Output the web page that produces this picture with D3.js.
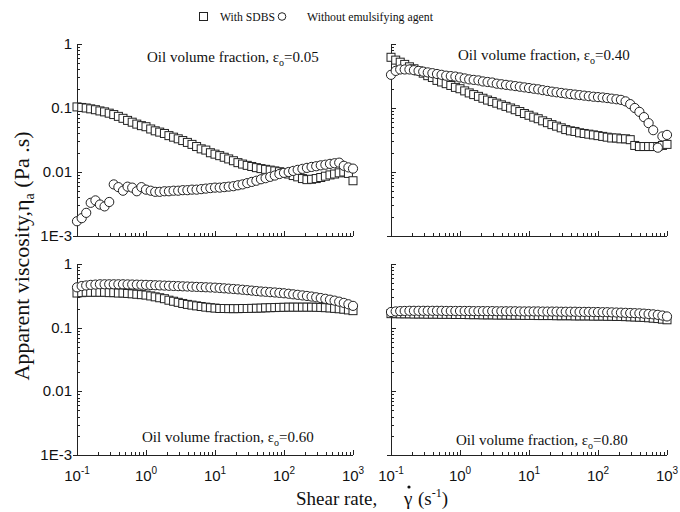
<!DOCTYPE html>
<html>
<head>
<meta charset="utf-8">
<script src="https://cdn.jsdelivr.net/npm/d3@7"></script>
<style>
  body { margin: 0; background: #fff; }
  svg { display: block; }
  .serif { font-family: "Liberation Serif", "Times New Roman", serif; fill: #111; }
  .sans { font-family: "Liberation Sans", Arial, sans-serif; fill: #111; }
  .axis path, .axis line { stroke: #222; stroke-width: 1; shape-rendering: crispEdges; }
</style>
</head>
<body>
<svg id="chart" width="680" height="512"></svg>
<script>
// shear rate, 1/s
var shearRate = [
  0.1, 0.117, 0.136, 0.158, 0.185, 0.215, 0.251, 0.293, 0.341, 0.398,
  0.464, 0.541, 0.631, 0.736, 0.858, 1, 1.17, 1.36, 1.58, 1.85,
  2.15, 2.51, 2.93, 3.41, 3.98, 4.64, 5.41, 6.31, 7.36, 8.58,
  10, 11.7, 13.6, 15.8, 18.5, 21.5, 25.1, 29.3, 34.1, 39.8,
  46.4, 54.1, 63.1, 73.6, 85.8, 100, 117, 136, 158, 185,
  215, 251, 293, 341, 398, 464, 541, 631, 736, 858,
  1000
];

// apparent viscosity, Pa.s  (sdbs = with SDBS, none = without emulsifying agent)
var sdbs005 = [
  0.104, 0.102, 0.100, 0.097, 0.094, 0.090, 0.087, 0.083, 0.079, 0.074,
  0.069, 0.064, 0.060, 0.056, 0.053, 0.051, 0.047, 0.044, 0.042, 0.040,
  0.037, 0.035, 0.033, 0.031, 0.029, 0.027, 0.025, 0.023, 0.022, 0.020,
  0.019, 0.018, 0.017, 0.016, 0.015, 0.014, 0.0133, 0.0127, 0.0122, 0.0117,
  0.0113, 0.011, 0.0107, 0.0104, 0.0101, 0.0098, 0.0093, 0.0088, 0.0084, 0.0079,
  0.0076, 0.0077, 0.0079, 0.0082, 0.0086, 0.009, 0.0093, 0.0097, 0.010, 0.0095,
  0.0073
];
var none005 = [
  0.0017, 0.0019, 0.0023, 0.0033, 0.0036, 0.0031, 0.0029, 0.0034, 0.0064, 0.0058,
  0.0051, 0.0059, 0.0057, 0.0050, 0.0058, 0.0053, 0.0051, 0.0049, 0.0049, 0.0050,
  0.0050, 0.0051, 0.0051, 0.0052, 0.0052, 0.0053, 0.0053, 0.0054, 0.0055, 0.0056,
  0.0057, 0.0057, 0.0058, 0.0059, 0.0060, 0.0062, 0.0064, 0.0067, 0.0070, 0.0073,
  0.0077, 0.0080, 0.0084, 0.0088, 0.0093, 0.0097, 0.0100, 0.0104, 0.0108, 0.0112,
  0.0116, 0.0120, 0.0123, 0.0127, 0.0130, 0.0134, 0.0137, 0.0140, 0.0125, 0.0118,
  0.0113
];
var sdbs040 = [
  0.62, 0.56, 0.52, 0.48, 0.44, 0.41, 0.38, 0.35, 0.32, 0.30,
  0.27, 0.255, 0.24, 0.225, 0.21, 0.20, 0.185, 0.172, 0.162, 0.152,
  0.142, 0.133, 0.126, 0.119, 0.112, 0.106, 0.100, 0.094, 0.088, 0.082,
  0.077, 0.072, 0.068, 0.063, 0.059, 0.055, 0.052, 0.049, 0.046, 0.044,
  0.043, 0.041, 0.040, 0.039, 0.038, 0.037, 0.036, 0.035, 0.034, 0.034,
  0.033, 0.033, 0.032, 0.026, 0.025, 0.025, 0.025, 0.025, 0.025, 0.026,
  0.027
];
var none040 = [
  0.33, 0.38, 0.40, 0.40, 0.40, 0.39, 0.38, 0.37, 0.36, 0.35,
  0.34, 0.33, 0.32, 0.315, 0.31, 0.30, 0.29, 0.28, 0.275, 0.27,
  0.26, 0.255, 0.25, 0.24, 0.235, 0.23, 0.225, 0.22, 0.215, 0.21,
  0.205, 0.20, 0.196, 0.19, 0.185, 0.18, 0.176, 0.172, 0.168, 0.165,
  0.162, 0.159, 0.156, 0.153, 0.15, 0.148, 0.146, 0.143, 0.14, 0.137,
  0.134, 0.127, 0.115, 0.10, 0.087, 0.072, 0.058, 0.045, 0.024, 0.036,
  0.038
];
var sdbs060 = [
  0.35, 0.355, 0.36, 0.36, 0.36, 0.36, 0.36, 0.355, 0.355, 0.35,
  0.35, 0.345, 0.34, 0.335, 0.33, 0.325, 0.315, 0.305, 0.295, 0.285,
  0.27, 0.26, 0.25, 0.24, 0.232, 0.226, 0.22, 0.215, 0.21, 0.206,
  0.203, 0.20, 0.20, 0.199, 0.199, 0.199, 0.20, 0.20, 0.201, 0.202,
  0.203, 0.205, 0.206, 0.207, 0.208, 0.209, 0.21, 0.21, 0.21, 0.21,
  0.21, 0.21, 0.209, 0.208, 0.206, 0.204, 0.201, 0.198, 0.195, 0.19,
  0.185
];
var none060 = [
  0.43, 0.45, 0.46, 0.47, 0.475, 0.48, 0.48, 0.48, 0.48, 0.48,
  0.48, 0.478, 0.476, 0.474, 0.472, 0.47, 0.467, 0.464, 0.461, 0.458,
  0.455, 0.452, 0.449, 0.446, 0.443, 0.44, 0.437, 0.434, 0.431, 0.428,
  0.425, 0.42, 0.415, 0.41, 0.405, 0.40, 0.394, 0.388, 0.382, 0.376,
  0.37, 0.366, 0.361, 0.357, 0.352, 0.347, 0.341, 0.334, 0.328, 0.321,
  0.315, 0.308, 0.30, 0.292, 0.284, 0.275, 0.266, 0.256, 0.245, 0.233,
  0.22
];
var sdbs080 = [
  0.166, 0.166, 0.165, 0.165, 0.165, 0.164, 0.164, 0.164, 0.163, 0.163,
  0.163, 0.162, 0.162, 0.162, 0.161, 0.161, 0.161, 0.160, 0.160, 0.160,
  0.159, 0.159, 0.159, 0.158, 0.158, 0.158, 0.157, 0.157, 0.157, 0.156,
  0.156, 0.156, 0.155, 0.155, 0.155, 0.155, 0.154, 0.154, 0.154, 0.154,
  0.153, 0.153, 0.153, 0.153, 0.152, 0.152, 0.152, 0.151, 0.151, 0.150,
  0.150, 0.149, 0.148, 0.147, 0.146, 0.145, 0.143, 0.141, 0.139, 0.136,
  0.133
];
var none080 = [
  0.176, 0.18, 0.182, 0.183, 0.184, 0.184, 0.184, 0.184, 0.184, 0.184,
  0.184, 0.184, 0.183, 0.183, 0.183, 0.183, 0.183, 0.183, 0.182, 0.182,
  0.182, 0.182, 0.182, 0.181, 0.181, 0.181, 0.181, 0.181, 0.180, 0.180,
  0.180, 0.180, 0.180, 0.179, 0.179, 0.179, 0.179, 0.178, 0.178, 0.178,
  0.178, 0.177, 0.177, 0.177, 0.176, 0.176, 0.175, 0.175, 0.174, 0.173,
  0.172, 0.171, 0.170, 0.169, 0.168, 0.166, 0.164, 0.162, 0.159, 0.155,
  0.150
];

var fractions = ["0.05", "0.40", "0.60", "0.80"];
var seriesNames = ["With SDBS", "Without emulsifying agent"];
var xMajor = [0.1, 1, 10, 100, 1000];
var xMajorExp = ["-1", "0", "1", "2", "3"];
var yMajor = [0.001, 0.01, 0.1, 1];
var yMajorLabels = ["1E-3", "0.01", "0.1", "1"];

var svg = d3.select("#chart");

// panel frames (left, right, top, bottom)
var panels = [
  { f: fractions[0], sq: sdbs005, ci: none005, x0: 77,  x1: 353, y0: 44,  y1: 236, lx: 147, ly: 62,  xl: false, yl: true },
  { f: fractions[1], sq: sdbs040, ci: none040, x0: 391, x1: 667, y0: 44,  y1: 236, lx: 458, ly: 60,  xl: false, yl: false },
  { f: fractions[2], sq: sdbs060, ci: none060, x0: 77,  x1: 353, y0: 264, y1: 455, lx: 142, ly: 442, xl: true,  yl: true },
  { f: fractions[3], sq: sdbs080, ci: none080, x0: 391, x1: 667, y0: 264, y1: 455, lx: 456, ly: 445, xl: true,  yl: false }
];

function minors(lo, hi) {
  var out = [];
  for (var e = lo; e < hi; e++)
    for (var k = 2; k <= 9; k++) out.push(k * Math.pow(10, e));
  return out;
}
var xMinor = minors(-1, 3);
var yMinor = minors(-3, 0);

panels.forEach(function(p) {
  var x = d3.scaleLog().domain([0.1, 1000]).range([p.x0, p.x1]);
  var y = d3.scaleLog().domain([0.001, 1]).range([p.y1, p.y0]);
  var g = svg.append("g");

  // axes, ticks inside
  g.append("g").attr("class", "axis")
      .attr("transform", "translate(0," + p.y1 + ")")
      .call(d3.axisBottom(x).tickValues(xMinor).tickSize(-3).tickSizeOuter(0).tickFormat(""))
      .call(function(a) { a.select(".domain").remove(); });
  g.append("g").attr("class", "axis")
      .attr("transform", "translate(0," + p.y1 + ")")
      .call(d3.axisBottom(x).tickValues(xMajor).tickSize(-5).tickSizeOuter(0).tickFormat(""))
      .call(function(a) { a.select(".domain").attr("d", "M" + (p.x0 - 4) + ",0H" + p.x1); });
  g.append("g").attr("class", "axis")
      .attr("transform", "translate(" + p.x0 + ",0)")
      .call(d3.axisLeft(y).tickValues(yMinor).tickSize(-3).tickSizeOuter(0).tickFormat(""))
      .call(function(a) { a.select(".domain").remove(); });
  g.append("g").attr("class", "axis")
      .attr("transform", "translate(" + p.x0 + ",0)")
      .call(d3.axisLeft(y).tickValues(yMajor).tickSize(-5).tickSizeOuter(0).tickFormat(""));

  if (p.xl) {
    xMajor.forEach(function(v, i) {
      var t = g.append("text").attr("class", "sans")
          .attr("x", x(v)).attr("y", p.y1 + 26)
          .attr("text-anchor", "middle")
          .style("font-size", "15px");
      t.append("tspan").text("10");
      t.append("tspan").attr("dy", -7).style("font-size", "10px").text(xMajorExp[i]);
    });
  }
  if (p.yl) {
    yMajor.forEach(function(v, i) {
      g.append("text").attr("class", "sans")
          .attr("x", p.x0 - 5).attr("y", y(v) + 5)
          .attr("text-anchor", "end")
          .style("font-size", "15px")
          .text(yMajorLabels[i]);
    });
  }

  // markers: squares first, circles on top, white filled
  g.append("g").selectAll("rect")
      .data(shearRate)
      .join("rect")
      .attr("x", function(d) { return x(d) - 4; })
      .attr("y", function(d, i) { return y(p.sq[i]) - 4; })
      .attr("width", 8).attr("height", 8)
      .attr("fill", "#fff").attr("stroke", "#222").attr("stroke-width", 1);
  g.append("g").selectAll("circle")
      .data(shearRate)
      .join("circle")
      .attr("cx", function(d) { return x(d); })
      .attr("cy", function(d, i) { return y(p.ci[i]); })
      .attr("r", 4.6)
      .attr("fill", "#fff").attr("stroke", "#222").attr("stroke-width", 1);

  var lab = g.append("text").attr("class", "serif")
      .attr("x", p.lx).attr("y", p.ly)
      .style("font-size", "15px");
  lab.append("tspan").text("Oil volume fraction, \u03b5");
  lab.append("tspan").attr("dy", 4).style("font-size", "10px").text("o");
  lab.append("tspan").attr("dy", -4).text("=" + p.f);
});

// legend (text squeezed to the narrow face of the original)
var leg = svg.append("g");
leg.append("rect").attr("x", 199.5).attr("y", 12.5).attr("width", 8).attr("height", 8)
    .attr("fill", "#fff").attr("stroke", "#222");
leg.append("text").attr("class", "serif").attr("x", 220).attr("y", 21)
    .attr("textLength", 55).attr("lengthAdjust", "spacingAndGlyphs")
    .style("font-size", "13.5px").text(seriesNames[0]);
leg.append("circle").attr("cx", 282).attr("cy", 16.5).attr("r", 3.8)
    .attr("fill", "#fff").attr("stroke", "#222");
leg.append("text").attr("class", "serif").attr("x", 307).attr("y", 21)
    .attr("textLength", 126).attr("lengthAdjust", "spacingAndGlyphs")
    .style("font-size", "13.5px").text(seriesNames[1]);

// x title
var xt = svg.append("g").attr("class", "serif").style("font-size", "19px");
xt.append("text").attr("x", 296).attr("y", 505).text("Shear rate,");
xt.append("text").attr("x", 404).attr("y", 505).text("\u03b3");
xt.append("circle").attr("cx", 409).attr("cy", 487).attr("r", 1.6).attr("fill", "#111");
var xs = xt.append("text").attr("x", 418).attr("y", 505);
xs.append("tspan").text("(s");
xs.append("tspan").attr("dy", -8).style("font-size", "12px").text("-1");
xs.append("tspan").attr("dy", 8).text(")");

// y title
var yt = svg.append("text").attr("class", "serif")
    .attr("transform", "translate(29,256) rotate(-90)")
    .attr("text-anchor", "middle")
    .style("font-size", "22px");
yt.append("tspan").text("Apparent viscosity,\u03b7");
yt.append("tspan").attr("dy", 5).style("font-size", "14px").text("a");
yt.append("tspan").attr("dy", -5).text(" (Pa .s)");
</script>
</body>
</html>
